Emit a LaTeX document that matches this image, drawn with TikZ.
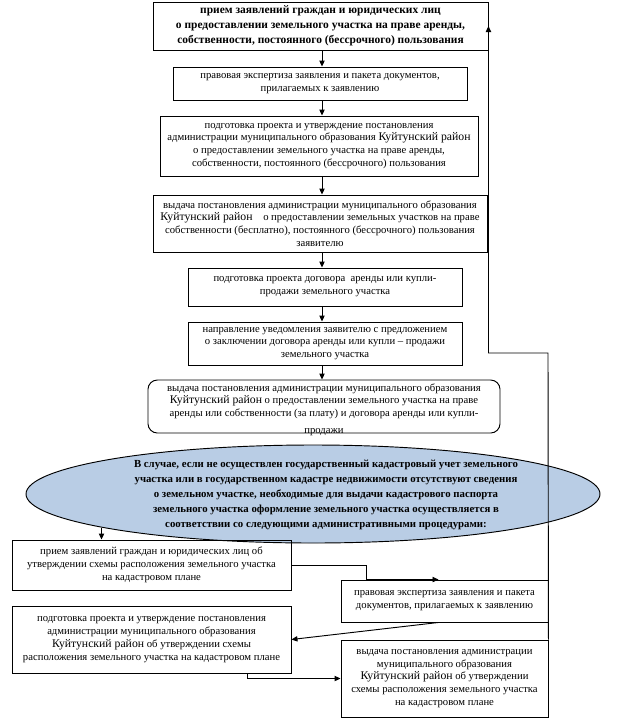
\documentclass[tikz,border=0pt]{standalone}
\usepackage{fontspec}
\setmainfont{Liberation Serif}
\usetikzlibrary{arrows.meta,shapes.geometric,calc}

\definecolor{ellblue}{HTML}{B9CDE5}
\newcommand{\kr}{{\fontsize{8.8}{9.6}\selectfont Куйтунский район}}

\tikzset{
  box/.style={draw, line width=0.7pt, align=center, inner sep=1pt, font=\fontsize{8}{9.6}\selectfont},
  boxbold/.style={box, font=\bfseries\fontsize{8.6}{11.2}\selectfont},
  wd/.style={minimum width=#1*0.75pt},
  ht/.style={minimum height=#1*0.75pt},
  arr/.style={line width=0.7pt, -{Triangle[length=4.5pt,width=4pt]}},
}

\begin{document}
\begin{tikzpicture}[x=0.75pt,y=-0.75pt]
\useasboundingbox (0,0) rectangle (641,719);

% main chain
\node[boxbold, wd=335, ht=48] (b1) at (320.5,26) {прием заявлений граждан и юридических лиц\\ о предоставлении земельного участка на праве аренды,\\ собственности, постоянного (бессрочного) пользования};
\node[box, wd=294, ht=33] (b2) at (320,83.5) {правовая экспертиза заявления и пакета документов,\\ прилагаемых к заявлению};
\node[box, wd=318, ht=60] (b3) at (319,146) {подготовка проекта и утверждение постановления\\ администрации муниципального образования \kr\\ о предоставлении земельного участка на праве аренды,\\ собственности, постоянного (бессрочного) пользования};
\node[box, wd=334, ht=57] (b4) at (320,223.5) {выдача постановления администрации муниципального образования\\ \kr\quad о предоставлении земельных участков на праве\\ собственности (бесплатно), постоянного (бессрочного) пользования\\ заявителю};
\node[box, wd=274, ht=38] (b5) at (325,287) {подготовка проекта договора \ аренды или купли-\\ продажи земельного участка};
\node[box, wd=274, ht=43] (b6) at (325,343.5) {направление уведомления заявителю с предложением\\ о заключении договора аренды или купли -- продажи\\ земельного участка};
\node[box, rounded corners=7pt, wd=352, ht=53] (b7) at (324,406.5) {выдача постановления администрации муниципального образования\\ \kr\ о предоставлении земельного участка на праве\\ аренды или собственности (за плату) и договора аренды или купли-\\ \smash{\raisebox{-3pt}{продажи}}};

% condition
\node[ellipse, draw, line width=0.7pt, fill=ellblue, wd=574, ht=98] (ell) at (313,494) {};
\node[align=center, font=\bfseries\fontsize{8.1}{11.4}\selectfont] (elltext) at (326,495) {В случае, если не осуществлен государственный кадастровый учет земельного\\ участка или в государственном кадастре недвижимости отсутствуют сведения\\ о земельном участке, необходимые для выдачи кадастрового паспорта\\ земельного участка оформление земельного участка осуществляется в\\ соответствии со следующими административными процедурами:};

% scheme procedures
\node[box, wd=279, ht=50] (L1) at (151.5,565) {прием заявлений граждан и юридических лиц об\\ утверждении схемы расположения земельного участка\\ на кадастровом плане};
\node[box, wd=279, ht=67] (L2) at (151.5,639.5) {подготовка проекта и утверждение постановления\\ администрации муниципального образования\\ \kr\ об утверждении схемы\\ расположения земельного участка на кадастровом плане};
\node[box, wd=207, ht=42] (R1) at (444.5,601) {правовая экспертиза заявления и пакета\\ документов, прилагаемых к заявлению};
\node[box, wd=207, ht=77] (R2) at (444.5,678.5) {выдача постановления администрации\\ муниципального образования\\ \kr\ об утверждении\\ схемы расположения земельного участка\\ на кадастровом плане};

% arrows
\coordinate (axis) at (322,0);
\foreach \a/\b in {b1/b2, b2/b3, b3/b4, b4/b5, b5/b6, b6/b7}
  \draw[arr] (\a.south -| axis) -- (\b.north -| axis);

\draw[arr] (ell.189) -- (ell.189 |- L1.north);
\draw[arr] (L1.east) -| ($(R1.north west)+(26,0)$) -- ($(R1.north)+(-6,0)$);
\draw[arr] ($(R1.south)+(-6,0)$) -- (L2.east);
\draw[arr] ($(L2.south east)+(-44,0)$) |- (R2.west);

\coordinate (turn) at (548,353);
\draw[arr] (R2.north east) -- (turn) -| (b1.east);

\end{tikzpicture}
\end{document}
